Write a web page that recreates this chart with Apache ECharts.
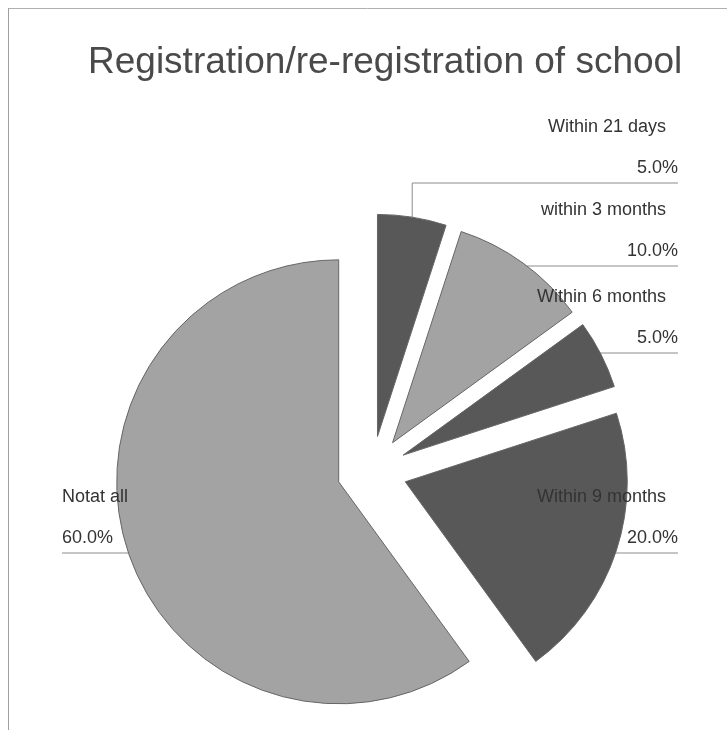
<!DOCTYPE html>
<html>
<head>
<meta charset="utf-8">
<script src="https://cdn.jsdelivr.net/npm/echarts@6/dist/echarts.min.js"></script>
<style>
  html, body { margin: 0; padding: 0; background: #ffffff; }
  #chart { width: 727px; height: 730px; }
</style>
</head>
<body>
<div id="chart"></div>
<script>
// Survey answers: when the school was registered / re-registered
const categories = ['Within 21 days', 'within 3 months', 'Within 6 months', 'Within 9 months', 'Notat all'];
const values = [5, 10, 5, 20, 60];
const sliceColors = ['#585858', '#a3a3a3', '#585858', '#585858', '#a3a3a3'];

// Pie geometry in pixels; every slice is pulled out from the centre by EXPLODE
const PIE_CENTER = [372, 471];
const PIE_RADIUS = 222;
const EXPLODE = 35;

// Label blocks: which side, outer x of the text, y of the underline
const LABEL_ANCHORS = [
  { side: 'right', x: 678, y: 183 },
  { side: 'right', x: 678, y: 266 },
  { side: 'right', x: 678, y: 353 },
  { side: 'right', x: 678, y: 553 },
  { side: 'left',  x: 62,  y: 553 }
];

const FONT = '"Liberation Sans", Arial, Helvetica, sans-serif';
const total = values.reduce((a, b) => a + b, 0);
const DEG = Math.PI / 180;

// angular extent of each slice, clockwise from 12 o'clock
let acc = 0;
const slices = values.map(v => {
  const start = acc;
  acc += v / total * 360;
  return { start: start, end: acc, mid: (start + acc) / 2 };
});

function sliceCenter(i) {
  const m = slices[i].mid * DEG;
  return [PIE_CENTER[0] + Math.sin(m) * EXPLODE, PIE_CENTER[1] - Math.cos(m) * EXPLODE];
}

// guide line: from the slice rim, running under the label text to its outer edge
function guidePoints(i) {
  const c = sliceCenter(i);
  const a = LABEL_ANCHORS[i];
  const dy = a.y - c[1];
  if (Math.abs(dy) < PIE_RADIUS) {
    const dx = Math.sqrt(PIE_RADIUS * PIE_RADIUS - dy * dy) * (a.side === 'right' ? 1 : -1);
    let ang = Math.atan2(dx, -dy) / DEG;
    if (ang < 0) ang += 360;
    if (ang >= slices[i].start && ang <= slices[i].end) {
      const p = [c[0] + dx, a.y];
      return [p, p, [a.x, a.y]];
    }
  }
  const m = slices[i].mid * DEG;
  const p0 = [c[0] + Math.sin(m) * PIE_RADIUS, c[1] - Math.cos(m) * PIE_RADIUS];
  return [p0, [p0[0], a.y], [a.x, a.y]];
}

const textRich = {
  n: { fontFamily: FONT, fontSize: 18, lineHeight: 56, color: '#333333' },
  nr: { fontFamily: FONT, fontSize: 18, lineHeight: 56, color: '#333333', padding: [0, 12, 0, 0] },
  p: { fontFamily: FONT, fontSize: 18, lineHeight: 26, color: '#333333' }
};

// one pie layer per slice so each can sit at its own exploded centre
const series = values.map((_, i) => ({
  type: 'pie',
  center: sliceCenter(i),
  radius: PIE_RADIUS,
  startAngle: 90,
  clockwise: true,
  silent: true,
  animation: false,
  avoidLabelOverlap: false,
  data: categories.map((name, j) => ({
    name: name,
    value: values[j],
    itemStyle: j === i
      ? { color: sliceColors[j], borderColor: '#666666', borderWidth: 1 }
      : { color: 'rgba(0,0,0,0)', borderWidth: 0 },
    label: { show: j === i },
    labelLine: { show: j === i }
  })),
  label: {
    position: 'outside',
    formatter: p => {
      const nameStyle = LABEL_ANCHORS[p.dataIndex].side === 'right' ? 'nr' : 'n';
      return '{' + nameStyle + '|' + p.name + '}\n{p|' + (p.value / total * 100).toFixed(1) + '%}';
    },
    rich: textRich
  },
  labelLine: { show: true, length: 10, length2: 10, lineStyle: { color: '#8c8c8c', width: 1 } },
  labelLayout: p => {
    const a = LABEL_ANCHORS[p.dataIndex];
    return {
      x: a.x,
      y: a.y - 2,
      align: a.side === 'right' ? 'right' : 'left',
      verticalAlign: 'bottom',
      labelLinePoints: guidePoints(p.dataIndex)
    };
  }
}));

const chart = echarts.init(document.getElementById('chart'), null, { renderer: 'canvas' });
chart.setOption({
  backgroundColor: '#ffffff',
  animation: false,
  title: {
    text: 'Registration/re-registration of school',
    left: 88,
    top: 44,
    padding: 0,
    textStyle: { fontFamily: FONT, fontSize: 37, fontWeight: 'normal', color: '#4a4a4a' }
  },
  graphic: [
    { type: 'line', shape: { x1: 8, y1: 8.5, x2: 727, y2: 8.5 }, style: { stroke: '#b0b0b0', lineWidth: 1 } },
    { type: 'line', shape: { x1: 8.5, y1: 8, x2: 8.5, y2: 730 }, style: { stroke: '#a0a0a0', lineWidth: 1 } }
  ],
  series: series
});
</script>
</body>
</html>
